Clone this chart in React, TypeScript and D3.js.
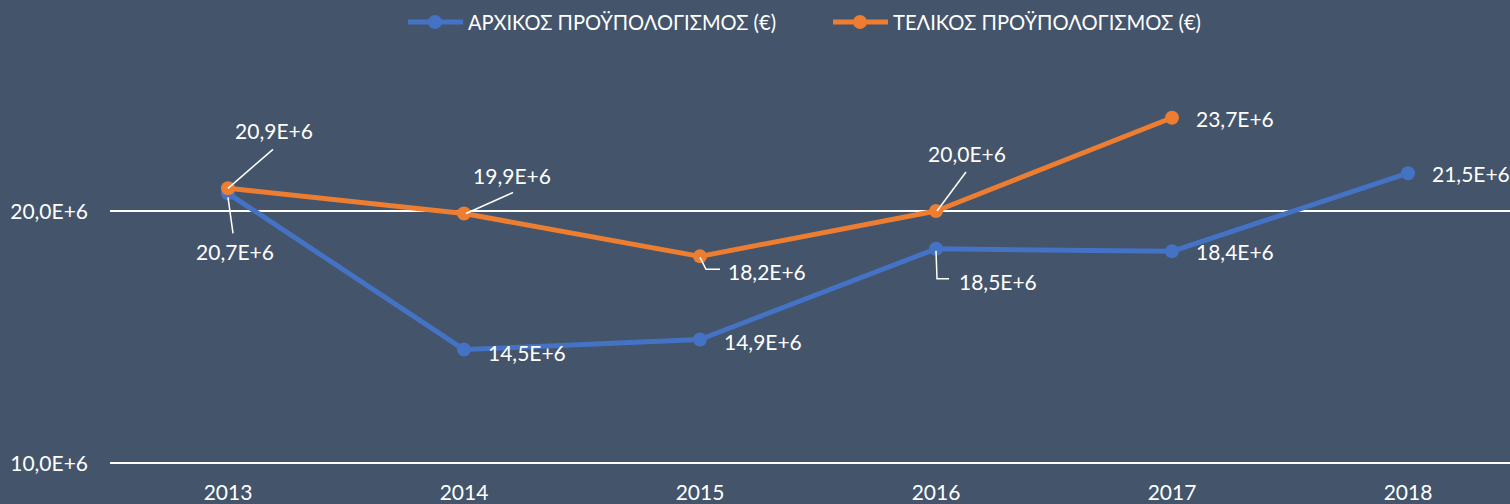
import { useEffect, useRef } from "react";
import * as d3 from "d3";

const years = ["2013", "2014", "2015", "2016", "2017", "2018"];
const initialBudget = [20.7e6, 14.5e6, 14.9e6, 18.5e6, 18.4e6, 21.5e6];
const finalBudget: (number | null)[] = [20.9e6, 19.9e6, 18.2e6, 20.0e6, 23.7e6, null];
const yTicks = [10e6, 20e6];
const seriesNames = ["ΑΡΧΙΚΟΣ ΠΡΟΫΠΟΛΟΓΙΣΜΟΣ (€)", "ΤΕΛΙΚΟΣ ΠΡΟΫΠΟΛΟΓΙΣΜΟΣ (€)"];

// label placement per point: dx/dy of text anchor, optional leader line path (relative to point)
type LabelPos = { dx: number; dy: number; anchor: string; leader?: [number, number][] };
const initialLabels: LabelPos[] = [
  { dx: 7, dy: 67, anchor: "middle", leader: [[0, 4], [5, 40]] },
  { dx: 24, dy: 11, anchor: "start" },
  { dx: 24, dy: 10, anchor: "start" },
  { dx: 23, dy: 41, anchor: "start", leader: [[0, 2], [1, 30], [13, 30]] },
  { dx: 24, dy: 9, anchor: "start" },
  { dx: 24, dy: 9, anchor: "start" },
];
const finalLabels: LabelPos[] = [
  { dx: 46, dy: -49, anchor: "middle", leader: [[0, 0], [45, -39]] },
  { dx: 48, dy: -30, anchor: "middle", leader: [[2, 0], [49, -21]] },
  { dx: 28, dy: 24, anchor: "start", leader: [[0, 1], [6, 13], [20, 13]] },
  { dx: 31, dy: -49, anchor: "middle", leader: [[1, 0], [30, -39]] },
  { dx: 24, dy: 9, anchor: "start" },
  { dx: 24, dy: 9, anchor: "start" },
];

const W = 1510;
const H = 504;
const BG = "#44546A";
const BLUE = "#4472C4";
const ORANGE = "#ED7D31";
const FONT = "Lato, 'Noto Sans', sans-serif";

const fmt = (v: number) => (v / 1e6).toFixed(1).replace(".", ",") + "E+6";

export default function App() {
  const svgRef = useRef<SVGSVGElement>(null);

  useEffect(() => {
    if (!svgRef.current) return;
    const svg = d3.select(svgRef.current);
    svg.selectAll("*").remove();

    svg.append("rect").attr("width", W).attr("height", H).attr("fill", BG);

    const x = d3.scaleBand().domain(years).range([110, 1526]);
    const cx = (d: string) => (x(d) || 0) + x.bandwidth() / 2;
    const y = d3.scaleLinear().domain([10e6, 30e6]).range([463, -41]);

    // gridlines
    svg
      .append("g")
      .selectAll("line")
      .data(yTicks)
      .enter()
      .append("line")
      .attr("x1", 110)
      .attr("x2", W)
      .attr("y1", (d) => y(d))
      .attr("y2", (d) => y(d))
      .attr("stroke", "#FFFFFF")
      .attr("stroke-width", 2);

    // y tick labels
    svg
      .append("g")
      .selectAll("text")
      .data(yTicks)
      .enter()
      .append("text")
      .attr("x", 88)
      .attr("y", (d) => y(d) + 8)
      .attr("text-anchor", "end")
      .attr("fill", "#FFFFFF")
      .attr("font-family", FONT)
      .attr("font-size", "21px")
      .text((d) => fmt(d));

    // x labels
    svg
      .append("g")
      .selectAll("text")
      .data(years)
      .enter()
      .append("text")
      .attr("x", (d) => cx(d))
      .attr("y", 500)
      .attr("text-anchor", "middle")
      .attr("fill", "#FFFFFF")
      .attr("font-family", FONT)
      .attr("font-size", "21px")
      .text((d) => d);

    const series = [
      { values: initialBudget as (number | null)[], color: BLUE, labels: initialLabels },
      { values: finalBudget, color: ORANGE, labels: finalLabels },
    ];

    const line = d3
      .line<[string, number | null]>()
      .defined((d) => d[1] != null)
      .x((d) => cx(d[0]))
      .y((d) => y(d[1] as number));

    series.forEach((s) => {
      const pts = years.map((yr, i) => [yr, s.values[i]] as [string, number | null]);
      svg
        .append("path")
        .datum(pts)
        .attr("d", line)
        .attr("fill", "none")
        .attr("stroke", s.color)
        .attr("stroke-width", 5)
        .attr("stroke-linejoin", "round");
      svg
        .append("g")
        .selectAll("circle")
        .data(pts.filter((p) => p[1] != null))
        .enter()
        .append("circle")
        .attr("cx", (d) => cx(d[0]))
        .attr("cy", (d) => y(d[1] as number))
        .attr("r", 7)
        .attr("fill", s.color);
    });

    // data labels + leader lines
    series.forEach((s) => {
      years.forEach((yr, i) => {
        const v = s.values[i];
        if (v == null) return;
        const px = cx(yr);
        const py = y(v);
        const lp = s.labels[i];
        if (lp.leader) {
          svg
            .append("path")
            .attr("d", d3.line()(lp.leader.map(([a, b]) => [px + a, py + b] as [number, number])))
            .attr("fill", "none")
            .attr("stroke", "#FFFFFF")
            .attr("stroke-width", 1.5);
        }
        svg
          .append("text")
          .attr("x", px + lp.dx)
          .attr("y", py + lp.dy)
          .attr("text-anchor", lp.anchor)
          .attr("fill", "#FFFFFF")
          .attr("font-family", FONT)
          .attr("font-size", "21px")
          .text(fmt(v));
      });
    });

    // legend
    const legend = [
      { x0: 408, color: BLUE, name: seriesNames[0] },
      { x0: 833, color: ORANGE, name: seriesNames[1] },
    ];
    legend.forEach((l) => {
      svg
        .append("line")
        .attr("x1", l.x0)
        .attr("x2", l.x0 + 55)
        .attr("y1", 22)
        .attr("y2", 22)
        .attr("stroke", l.color)
        .attr("stroke-width", 5);
      svg
        .append("circle")
        .attr("cx", l.x0 + 27)
        .attr("cy", 22)
        .attr("r", 7)
        .attr("fill", l.color);
      svg
        .append("text")
        .attr("x", l.x0 + 60)
        .attr("y", 30)
        .attr("fill", "#FFFFFF")
        .attr("font-family", FONT)
        .attr("font-size", "21px")
        .attr("textLength", 308)
        .attr("lengthAdjust", "spacingAndGlyphs")
        .text(l.name);
    });
  }, []);

  return (
    <svg
      ref={svgRef}
      width={W}
      height={H}
      style={{ position: "absolute", left: 0, top: 0, display: "block" }}
    />
  );
}
